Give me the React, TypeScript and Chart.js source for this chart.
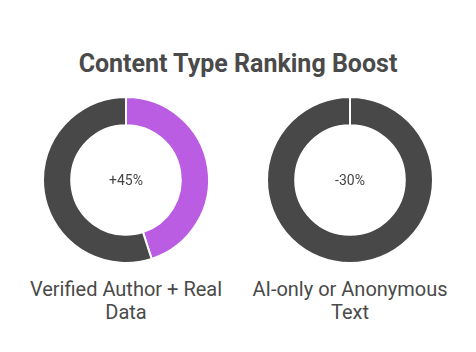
import React, { useEffect, useRef } from "react";
import { Chart, registerables } from "chart.js";

Chart.register(...registerables);

const title = "Content Type Ranking Boost";
const categories = [["Verified Author + Real", "Data"], ["AI-only or Anonymous", "Text"]];
const centerLabels = ["+45%", "-30%"];
const boostValues = [45, 0];
const remainderValues = [55, 100];
const boostColor = "#BA5DE2";
const restColor = "#484848";

const centerTextPlugin = {
  id: "centerText",
  afterDraw(chart: any) {
    const txt = chart.options.plugins.centerText?.text;
    if (!txt) return;
    const meta = chart.getDatasetMeta(0);
    const arc = meta.data[0];
    if (!arc) return;
    const { x, y } = arc;
    const ctx = chart.ctx;
    ctx.save();
    ctx.font = "14px Roboto";
    ctx.fillStyle = "#444444";
    ctx.textAlign = "center";
    ctx.textBaseline = "middle";
    ctx.fillText(txt, x, y + 1);
    ctx.restore();
  },
};

function Donut({ index }: { index: number }) {
  const ref = useRef<HTMLCanvasElement>(null);
  useEffect(() => {
    const chart = new Chart(ref.current!, {
      type: "doughnut",
      data: {
        labels: ["Boost", "Rest"],
        datasets: [
          {
            data: [boostValues[index], remainderValues[index]],
            backgroundColor: [boostColor, restColor],
            borderColor: "#ffffff",
            borderWidth: 2,
          },
        ],
      },
      options: {
        animation: false,
        responsive: false,
        cutout: "66%",
        layout: { padding: 0 },
        plugins: {
          legend: { display: false },
          tooltip: { enabled: false },
          centerText: { text: centerLabels[index] },
        } as any,
      },
      plugins: [centerTextPlugin],
    });
    return () => chart.destroy();
  }, [index]);
  return <canvas ref={ref} width={224} height={168} style={{ width: 224, height: 168, display: "block" }} />;
}

export default function App() {
  const centers = [126, 350];
  return (
    <div style={{ position: "absolute", left: 0, top: 0, width: 476, height: 352, background: "#fff", fontFamily: "Roboto, sans-serif" }}>
      <div
        style={{
          position: "absolute",
          left: 0,
          top: 52,
          width: 476,
          textAlign: "center",
          fontSize: 25,
          lineHeight: "24px",
          fontWeight: 700,
          color: "#4a4a4a",
        }}
      >
        {title}
      </div>
      {centers.map((cx, i) => (
        <React.Fragment key={i}>
          <div style={{ position: "absolute", left: cx - 112, top: 96 }}>
            <Donut index={i} />
          </div>
          <div
            style={{
              position: "absolute",
              left: cx - 112,
              top: 278,
              width: 224,
              textAlign: "center",
              fontSize: 20,
              lineHeight: "23px",
              color: "#4a4a4a",
            }}
          >
            {categories[i][0]}
            <br />
            {categories[i][1]}
          </div>
        </React.Fragment>
      ))}
    </div>
  );
}
